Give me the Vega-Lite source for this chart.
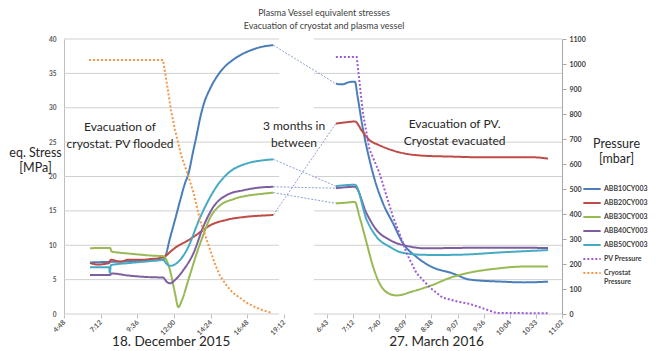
{
  "$schema": "https://vega.github.io/schema/vega-lite/v6.json",
  "width": 498,
  "height": 275,
  "autosize": {"type": "none"},
  "padding": {"left": 64, "top": 39, "right": 94, "bottom": 37},
  "background": "white",
  "config": {
    "view": {"stroke": null},
    "font": "Lato",
    "axis": {"labelFont": "Lato", "titleFont": "Lato"},
    "legend": {"labelFont": "Lato"}
  },
  "title": {
    "text": ["Plasma Vessel equivalent stresses", "Evacuation of cryostat and plasma vessel"],
    "fontSize": 9, "fontWeight": "normal", "color": "#404040", "lineHeight": 13,
    "offset": 4, "anchor": "middle", "dx": 11, "font": "Lato"
  },
  "datasets": {
    "grid": [
      {"v": 0, "t": "2015-12-18T04:48Z", "t2": "2015-12-18T18:53Z"},
      {"v": 5, "t": "2015-12-18T04:48Z", "t2": "2015-12-18T18:53Z"},
      {"v": 10, "t": "2015-12-18T04:48Z", "t2": "2015-12-18T18:53Z"},
      {"v": 15, "t": "2015-12-18T04:48Z", "t2": "2015-12-18T18:53Z"},
      {"v": 20, "t": "2015-12-18T04:48Z", "t2": "2015-12-18T18:53Z"},
      {"v": 25, "t": "2015-12-18T04:48Z", "t2": "2015-12-18T18:53Z"},
      {"v": 30, "t": "2015-12-18T04:48Z", "t2": "2015-12-18T18:53Z"},
      {"v": 35, "t": "2015-12-18T04:48Z", "t2": "2015-12-18T18:53Z"},
      {"v": 40, "t": "2015-12-18T04:48Z", "t2": "2015-12-18T18:53Z"},
      {"v": 0, "t": "2016-03-27T06:28:54Z", "t2": "2016-03-27T11:02:24Z"},
      {"v": 5, "t": "2016-03-27T06:28:54Z", "t2": "2016-03-27T11:02:24Z"},
      {"v": 10, "t": "2016-03-27T06:28:54Z", "t2": "2016-03-27T11:02:24Z"},
      {"v": 15, "t": "2016-03-27T06:28:54Z", "t2": "2016-03-27T11:02:24Z"},
      {"v": 20, "t": "2016-03-27T06:28:54Z", "t2": "2016-03-27T11:02:24Z"},
      {"v": 25, "t": "2016-03-27T06:28:54Z", "t2": "2016-03-27T11:02:24Z"},
      {"v": 30, "t": "2016-03-27T06:28:54Z", "t2": "2016-03-27T11:02:24Z"},
      {"v": 35, "t": "2016-03-27T06:28:54Z", "t2": "2016-03-27T11:02:24Z"},
      {"v": 40, "t": "2016-03-27T06:28:54Z", "t2": "2016-03-27T11:02:24Z"}
    ],
    "notes": [
      {"label": "Evacuation of\ncryostat. PV flooded", "t": "2015-12-18T08:28Z", "v": 27.2},
      {"label": "3 months in\nbetween", "t": "2016-01-20T23:00Z", "v": 27.4},
      {"label": "Evacuation of PV.\nCryostat evacuated", "t": "2016-03-27T09:04Z", "v": 27.6}
    ],
    "dates": [
      {"label": "18. December 2015", "t": "2015-12-18T11:49Z", "v": -4.6},
      {"label": "27. March 2016", "t": "2016-03-27T08:44Z", "v": -4.6}
    ],
    "stress": [
      {"s": "ABB10CY003", "p": "L", "t": "2015-12-18T06:30Z", "v": 7.5},
      {"s": "ABB10CY003", "p": "L", "t": "2015-12-18T08:00Z", "v": 7.6},
      {"s": "ABB10CY003", "p": "L", "t": "2015-12-18T09:30Z", "v": 7.7},
      {"s": "ABB10CY003", "p": "L", "t": "2015-12-18T10:30Z", "v": 7.8},
      {"s": "ABB10CY003", "p": "L", "t": "2015-12-18T11:17Z", "v": 7.9},
      {"s": "ABB10CY003", "p": "L", "t": "2015-12-18T11:25Z", "v": 8.3},
      {"s": "ABB10CY003", "p": "L", "t": "2015-12-18T11:44Z", "v": 11.0},
      {"s": "ABB10CY003", "p": "L", "t": "2015-12-18T12:04Z", "v": 13.7},
      {"s": "ABB10CY003", "p": "L", "t": "2015-12-18T12:24Z", "v": 16.5},
      {"s": "ABB10CY003", "p": "L", "t": "2015-12-18T12:43Z", "v": 19.0},
      {"s": "ABB10CY003", "p": "L", "t": "2015-12-18T12:56Z", "v": 20.3},
      {"s": "ABB10CY003", "p": "L", "t": "2015-12-18T13:16Z", "v": 23.8},
      {"s": "ABB10CY003", "p": "L", "t": "2015-12-18T13:29Z", "v": 26.0},
      {"s": "ABB10CY003", "p": "L", "t": "2015-12-18T13:42Z", "v": 28.4},
      {"s": "ABB10CY003", "p": "L", "t": "2015-12-18T13:55Z", "v": 30.3},
      {"s": "ABB10CY003", "p": "L", "t": "2015-12-18T14:22Z", "v": 32.8},
      {"s": "ABB10CY003", "p": "L", "t": "2015-12-18T14:48Z", "v": 34.5},
      {"s": "ABB10CY003", "p": "L", "t": "2015-12-18T15:15Z", "v": 35.8},
      {"s": "ABB10CY003", "p": "L", "t": "2015-12-18T15:53Z", "v": 37.0},
      {"s": "ABB10CY003", "p": "L", "t": "2015-12-18T16:33Z", "v": 37.9},
      {"s": "ABB10CY003", "p": "L", "t": "2015-12-18T17:12Z", "v": 38.5},
      {"s": "ABB10CY003", "p": "L", "t": "2015-12-18T17:38Z", "v": 38.8},
      {"s": "ABB10CY003", "p": "L", "t": "2015-12-18T18:05Z", "v": 39.0},
      {"s": "ABB10CY003", "p": "L", "t": "2015-12-18T18:30Z", "v": 39.1},
      {"s": "ABB10CY003", "p": "R", "t": "2016-03-27T06:53Z", "v": 33.5},
      {"s": "ABB10CY003", "p": "R", "t": "2016-03-27T07:00Z", "v": 33.4},
      {"s": "ABB10CY003", "p": "R", "t": "2016-03-27T07:07Z", "v": 33.7},
      {"s": "ABB10CY003", "p": "R", "t": "2016-03-27T07:14Z", "v": 33.8},
      {"s": "ABB10CY003", "p": "R", "t": "2016-03-27T07:17Z", "v": 31.6},
      {"s": "ABB10CY003", "p": "R", "t": "2016-03-27T07:23Z", "v": 26.8},
      {"s": "ABB10CY003", "p": "R", "t": "2016-03-27T07:30Z", "v": 22.5},
      {"s": "ABB10CY003", "p": "R", "t": "2016-03-27T07:34Z", "v": 20.4},
      {"s": "ABB10CY003", "p": "R", "t": "2016-03-27T07:45Z", "v": 16.1},
      {"s": "ABB10CY003", "p": "R", "t": "2016-03-27T07:56Z", "v": 13.2},
      {"s": "ABB10CY003", "p": "R", "t": "2016-03-27T08:07Z", "v": 10.3},
      {"s": "ABB10CY003", "p": "R", "t": "2016-03-27T08:22Z", "v": 8.3},
      {"s": "ABB10CY003", "p": "R", "t": "2016-03-27T08:38Z", "v": 6.9},
      {"s": "ABB10CY003", "p": "R", "t": "2016-03-27T09:02Z", "v": 5.9},
      {"s": "ABB10CY003", "p": "R", "t": "2016-03-27T09:21Z", "v": 5.0},
      {"s": "ABB10CY003", "p": "R", "t": "2016-03-27T09:57Z", "v": 4.7},
      {"s": "ABB10CY003", "p": "R", "t": "2016-03-27T10:20Z", "v": 4.6},
      {"s": "ABB10CY003", "p": "R", "t": "2016-03-27T10:47Z", "v": 4.7},

      {"s": "ABB20CY003", "p": "L", "t": "2015-12-18T06:30Z", "v": 7.4},
      {"s": "ABB20CY003", "p": "L", "t": "2015-12-18T07:00Z", "v": 7.2},
      {"s": "ABB20CY003", "p": "L", "t": "2015-12-18T07:45Z", "v": 7.4},
      {"s": "ABB20CY003", "p": "L", "t": "2015-12-18T07:52Z", "v": 7.9},
      {"s": "ABB20CY003", "p": "L", "t": "2015-12-18T08:30Z", "v": 7.6},
      {"s": "ABB20CY003", "p": "L", "t": "2015-12-18T09:00Z", "v": 7.9},
      {"s": "ABB20CY003", "p": "L", "t": "2015-12-18T10:00Z", "v": 7.9},
      {"s": "ABB20CY003", "p": "L", "t": "2015-12-18T10:30Z", "v": 8.0},
      {"s": "ABB20CY003", "p": "L", "t": "2015-12-18T11:00Z", "v": 8.1},
      {"s": "ABB20CY003", "p": "L", "t": "2015-12-18T11:25Z", "v": 8.4},
      {"s": "ABB20CY003", "p": "L", "t": "2015-12-18T11:50Z", "v": 9.2},
      {"s": "ABB20CY003", "p": "L", "t": "2015-12-18T12:11Z", "v": 9.8},
      {"s": "ABB20CY003", "p": "L", "t": "2015-12-18T12:45Z", "v": 10.5},
      {"s": "ABB20CY003", "p": "L", "t": "2015-12-18T13:16Z", "v": 11.2},
      {"s": "ABB20CY003", "p": "L", "t": "2015-12-18T13:50Z", "v": 12.1},
      {"s": "ABB20CY003", "p": "L", "t": "2015-12-18T14:22Z", "v": 12.9},
      {"s": "ABB20CY003", "p": "L", "t": "2015-12-18T15:27Z", "v": 13.7},
      {"s": "ABB20CY003", "p": "L", "t": "2015-12-18T16:46Z", "v": 14.15},
      {"s": "ABB20CY003", "p": "L", "t": "2015-12-18T17:40Z", "v": 14.3},
      {"s": "ABB20CY003", "p": "L", "t": "2015-12-18T18:30Z", "v": 14.4},
      {"s": "ABB20CY003", "p": "R", "t": "2016-03-27T06:53Z", "v": 27.7},
      {"s": "ABB20CY003", "p": "R", "t": "2016-03-27T07:05Z", "v": 27.9},
      {"s": "ABB20CY003", "p": "R", "t": "2016-03-27T07:14Z", "v": 28.0},
      {"s": "ABB20CY003", "p": "R", "t": "2016-03-27T07:22Z", "v": 26.6},
      {"s": "ABB20CY003", "p": "R", "t": "2016-03-27T07:30Z", "v": 25.3},
      {"s": "ABB20CY003", "p": "R", "t": "2016-03-27T07:40Z", "v": 24.6},
      {"s": "ABB20CY003", "p": "R", "t": "2016-03-27T07:49Z", "v": 24.1},
      {"s": "ABB20CY003", "p": "R", "t": "2016-03-27T08:07Z", "v": 23.4},
      {"s": "ABB20CY003", "p": "R", "t": "2016-03-27T08:33Z", "v": 23.0},
      {"s": "ABB20CY003", "p": "R", "t": "2016-03-27T09:00Z", "v": 22.9},
      {"s": "ABB20CY003", "p": "R", "t": "2016-03-27T09:30Z", "v": 22.8},
      {"s": "ABB20CY003", "p": "R", "t": "2016-03-27T10:00Z", "v": 22.8},
      {"s": "ABB20CY003", "p": "R", "t": "2016-03-27T10:30Z", "v": 22.8},
      {"s": "ABB20CY003", "p": "R", "t": "2016-03-27T10:47Z", "v": 22.6},

      {"s": "ABB30CY003", "p": "L", "t": "2015-12-18T06:30Z", "v": 9.55},
      {"s": "ABB30CY003", "p": "L", "t": "2015-12-18T07:00Z", "v": 9.6},
      {"s": "ABB30CY003", "p": "L", "t": "2015-12-18T07:49Z", "v": 9.6},
      {"s": "ABB30CY003", "p": "L", "t": "2015-12-18T07:55Z", "v": 9.1},
      {"s": "ABB30CY003", "p": "L", "t": "2015-12-18T08:30Z", "v": 8.9},
      {"s": "ABB30CY003", "p": "L", "t": "2015-12-18T09:00Z", "v": 8.8},
      {"s": "ABB30CY003", "p": "L", "t": "2015-12-18T10:30Z", "v": 8.5},
      {"s": "ABB30CY003", "p": "L", "t": "2015-12-18T11:20Z", "v": 8.4},
      {"s": "ABB30CY003", "p": "L", "t": "2015-12-18T11:25Z", "v": 8.2},
      {"s": "ABB30CY003", "p": "L", "t": "2015-12-18T11:44Z", "v": 6.4},
      {"s": "ABB30CY003", "p": "L", "t": "2015-12-18T12:04Z", "v": 3.0},
      {"s": "ABB30CY003", "p": "L", "t": "2015-12-18T12:17Z", "v": 1.0},
      {"s": "ABB30CY003", "p": "L", "t": "2015-12-18T12:30Z", "v": 1.9},
      {"s": "ABB30CY003", "p": "L", "t": "2015-12-18T12:56Z", "v": 4.9},
      {"s": "ABB30CY003", "p": "L", "t": "2015-12-18T13:29Z", "v": 8.8},
      {"s": "ABB30CY003", "p": "L", "t": "2015-12-18T13:55Z", "v": 11.5},
      {"s": "ABB30CY003", "p": "L", "t": "2015-12-18T14:22Z", "v": 14.0},
      {"s": "ABB30CY003", "p": "L", "t": "2015-12-18T15:01Z", "v": 15.8},
      {"s": "ABB30CY003", "p": "L", "t": "2015-12-18T15:53Z", "v": 16.7},
      {"s": "ABB30CY003", "p": "L", "t": "2015-12-18T16:46Z", "v": 17.2},
      {"s": "ABB30CY003", "p": "L", "t": "2015-12-18T17:38Z", "v": 17.45},
      {"s": "ABB30CY003", "p": "L", "t": "2015-12-18T18:30Z", "v": 17.65},
      {"s": "ABB30CY003", "p": "R", "t": "2016-03-27T06:53Z", "v": 16.1},
      {"s": "ABB30CY003", "p": "R", "t": "2016-03-27T07:05Z", "v": 16.2},
      {"s": "ABB30CY003", "p": "R", "t": "2016-03-27T07:14Z", "v": 16.3},
      {"s": "ABB30CY003", "p": "R", "t": "2016-03-27T07:19Z", "v": 14.2},
      {"s": "ABB30CY003", "p": "R", "t": "2016-03-27T07:27Z", "v": 10.3},
      {"s": "ABB30CY003", "p": "R", "t": "2016-03-27T07:34Z", "v": 6.9},
      {"s": "ABB30CY003", "p": "R", "t": "2016-03-27T07:41Z", "v": 4.5},
      {"s": "ABB30CY003", "p": "R", "t": "2016-03-27T07:51Z", "v": 3.0},
      {"s": "ABB30CY003", "p": "R", "t": "2016-03-27T08:00Z", "v": 2.7},
      {"s": "ABB30CY003", "p": "R", "t": "2016-03-27T08:18Z", "v": 3.3},
      {"s": "ABB30CY003", "p": "R", "t": "2016-03-27T08:37Z", "v": 4.1},
      {"s": "ABB30CY003", "p": "R", "t": "2016-03-27T09:02Z", "v": 5.4},
      {"s": "ABB30CY003", "p": "R", "t": "2016-03-27T09:13Z", "v": 5.8},
      {"s": "ABB30CY003", "p": "R", "t": "2016-03-27T09:50Z", "v": 6.6},
      {"s": "ABB30CY003", "p": "R", "t": "2016-03-27T10:20Z", "v": 6.9},
      {"s": "ABB30CY003", "p": "R", "t": "2016-03-27T10:47Z", "v": 6.9},

      {"s": "ABB40CY003", "p": "L", "t": "2015-12-18T06:30Z", "v": 5.67},
      {"s": "ABB40CY003", "p": "L", "t": "2015-12-18T07:49Z", "v": 5.67},
      {"s": "ABB40CY003", "p": "L", "t": "2015-12-18T07:55Z", "v": 5.9},
      {"s": "ABB40CY003", "p": "L", "t": "2015-12-18T09:00Z", "v": 5.6},
      {"s": "ABB40CY003", "p": "L", "t": "2015-12-18T10:30Z", "v": 5.35},
      {"s": "ABB40CY003", "p": "L", "t": "2015-12-18T11:17Z", "v": 5.3},
      {"s": "ABB40CY003", "p": "L", "t": "2015-12-18T11:31Z", "v": 4.7},
      {"s": "ABB40CY003", "p": "L", "t": "2015-12-18T11:44Z", "v": 4.46},
      {"s": "ABB40CY003", "p": "L", "t": "2015-12-18T12:04Z", "v": 4.95},
      {"s": "ABB40CY003", "p": "L", "t": "2015-12-18T12:37Z", "v": 6.4},
      {"s": "ABB40CY003", "p": "L", "t": "2015-12-18T13:16Z", "v": 8.8},
      {"s": "ABB40CY003", "p": "L", "t": "2015-12-18T13:55Z", "v": 12.7},
      {"s": "ABB40CY003", "p": "L", "t": "2015-12-18T14:35Z", "v": 15.6},
      {"s": "ABB40CY003", "p": "L", "t": "2015-12-18T15:27Z", "v": 17.3},
      {"s": "ABB40CY003", "p": "L", "t": "2015-12-18T16:33Z", "v": 18.0},
      {"s": "ABB40CY003", "p": "L", "t": "2015-12-18T17:38Z", "v": 18.4},
      {"s": "ABB40CY003", "p": "L", "t": "2015-12-18T18:30Z", "v": 18.5},
      {"s": "ABB40CY003", "p": "R", "t": "2016-03-27T06:53Z", "v": 18.3},
      {"s": "ABB40CY003", "p": "R", "t": "2016-03-27T07:14Z", "v": 18.5},
      {"s": "ABB40CY003", "p": "R", "t": "2016-03-27T07:27Z", "v": 14.6},
      {"s": "ABB40CY003", "p": "R", "t": "2016-03-27T07:38Z", "v": 12.2},
      {"s": "ABB40CY003", "p": "R", "t": "2016-03-27T07:52Z", "v": 10.8},
      {"s": "ABB40CY003", "p": "R", "t": "2016-03-27T08:15Z", "v": 9.8},
      {"s": "ABB40CY003", "p": "R", "t": "2016-03-27T08:33Z", "v": 9.55},
      {"s": "ABB40CY003", "p": "R", "t": "2016-03-27T09:00Z", "v": 9.6},
      {"s": "ABB40CY003", "p": "R", "t": "2016-03-27T10:00Z", "v": 9.65},
      {"s": "ABB40CY003", "p": "R", "t": "2016-03-27T10:47Z", "v": 9.6},

      {"s": "ABB50CY003", "p": "L", "t": "2015-12-18T06:30Z", "v": 6.8},
      {"s": "ABB50CY003", "p": "L", "t": "2015-12-18T07:45Z", "v": 6.8},
      {"s": "ABB50CY003", "p": "L", "t": "2015-12-18T07:48Z", "v": 6.0},
      {"s": "ABB50CY003", "p": "L", "t": "2015-12-18T07:52Z", "v": 7.1},
      {"s": "ABB50CY003", "p": "L", "t": "2015-12-18T09:00Z", "v": 7.4},
      {"s": "ABB50CY003", "p": "L", "t": "2015-12-18T10:30Z", "v": 7.7},
      {"s": "ABB50CY003", "p": "L", "t": "2015-12-18T11:17Z", "v": 7.85},
      {"s": "ABB50CY003", "p": "L", "t": "2015-12-18T11:31Z", "v": 7.3},
      {"s": "ABB50CY003", "p": "L", "t": "2015-12-18T11:44Z", "v": 7.0},
      {"s": "ABB50CY003", "p": "L", "t": "2015-12-18T12:11Z", "v": 7.4},
      {"s": "ABB50CY003", "p": "L", "t": "2015-12-18T12:50Z", "v": 9.3},
      {"s": "ABB50CY003", "p": "L", "t": "2015-12-18T13:42Z", "v": 14.0},
      {"s": "ABB50CY003", "p": "L", "t": "2015-12-18T14:22Z", "v": 17.0},
      {"s": "ABB50CY003", "p": "L", "t": "2015-12-18T14:50Z", "v": 18.7},
      {"s": "ABB50CY003", "p": "L", "t": "2015-12-18T15:27Z", "v": 20.3},
      {"s": "ABB50CY003", "p": "L", "t": "2015-12-18T16:46Z", "v": 21.9},
      {"s": "ABB50CY003", "p": "L", "t": "2015-12-18T17:38Z", "v": 22.3},
      {"s": "ABB50CY003", "p": "L", "t": "2015-12-18T18:30Z", "v": 22.5},
      {"s": "ABB50CY003", "p": "R", "t": "2016-03-27T06:53Z", "v": 18.6},
      {"s": "ABB50CY003", "p": "R", "t": "2016-03-27T07:14Z", "v": 18.8},
      {"s": "ABB50CY003", "p": "R", "t": "2016-03-27T07:27Z", "v": 13.7},
      {"s": "ABB50CY003", "p": "R", "t": "2016-03-27T07:38Z", "v": 11.2},
      {"s": "ABB50CY003", "p": "R", "t": "2016-03-27T07:52Z", "v": 9.8},
      {"s": "ABB50CY003", "p": "R", "t": "2016-03-27T08:07Z", "v": 8.9},
      {"s": "ABB50CY003", "p": "R", "t": "2016-03-27T08:33Z", "v": 8.6},
      {"s": "ABB50CY003", "p": "R", "t": "2016-03-27T09:00Z", "v": 8.6},
      {"s": "ABB50CY003", "p": "R", "t": "2016-03-27T10:00Z", "v": 9.0},
      {"s": "ABB50CY003", "p": "R", "t": "2016-03-27T10:47Z", "v": 9.3}
    ],
    "press": [
      {"s": "Cryostat Pressure", "t": "2015-12-18T06:26Z", "v": 1016},
      {"s": "Cryostat Pressure", "t": "2015-12-18T11:17Z", "v": 1016},
      {"s": "Cryostat Pressure", "t": "2015-12-18T11:33Z", "v": 916},
      {"s": "Cryostat Pressure", "t": "2015-12-18T11:48Z", "v": 816},
      {"s": "Cryostat Pressure", "t": "2015-12-18T12:04Z", "v": 736},
      {"s": "Cryostat Pressure", "t": "2015-12-18T12:28Z", "v": 636},
      {"s": "Cryostat Pressure", "t": "2015-12-18T12:55Z", "v": 556},
      {"s": "Cryostat Pressure", "t": "2015-12-18T13:19Z", "v": 476},
      {"s": "Cryostat Pressure", "t": "2015-12-18T13:42Z", "v": 376},
      {"s": "Cryostat Pressure", "t": "2015-12-18T14:02Z", "v": 316},
      {"s": "Cryostat Pressure", "t": "2015-12-18T14:22Z", "v": 256},
      {"s": "Cryostat Pressure", "t": "2015-12-18T14:41Z", "v": 200},
      {"s": "Cryostat Pressure", "t": "2015-12-18T15:01Z", "v": 152},
      {"s": "Cryostat Pressure", "t": "2015-12-18T15:28Z", "v": 112},
      {"s": "Cryostat Pressure", "t": "2015-12-18T15:52Z", "v": 84},
      {"s": "Cryostat Pressure", "t": "2015-12-18T16:20Z", "v": 64},
      {"s": "Cryostat Pressure", "t": "2015-12-18T16:47Z", "v": 44},
      {"s": "Cryostat Pressure", "t": "2015-12-18T17:18Z", "v": 28},
      {"s": "Cryostat Pressure", "t": "2015-12-18T17:46Z", "v": 16},
      {"s": "Cryostat Pressure", "t": "2015-12-18T18:25Z", "v": 4},
      {"s": "PV Pressure", "t": "2016-03-27T06:53Z", "v": 1028},
      {"s": "PV Pressure", "t": "2016-03-27T07:16Z", "v": 1028},
      {"s": "PV Pressure", "t": "2016-03-27T07:23Z", "v": 800},
      {"s": "PV Pressure", "t": "2016-03-27T07:30Z", "v": 660},
      {"s": "PV Pressure", "t": "2016-03-27T07:41Z", "v": 565},
      {"s": "PV Pressure", "t": "2016-03-27T07:56Z", "v": 389},
      {"s": "PV Pressure", "t": "2016-03-27T08:03Z", "v": 323},
      {"s": "PV Pressure", "t": "2016-03-27T08:11Z", "v": 243},
      {"s": "PV Pressure", "t": "2016-03-27T08:22Z", "v": 163},
      {"s": "PV Pressure", "t": "2016-03-27T08:37Z", "v": 105},
      {"s": "PV Pressure", "t": "2016-03-27T08:51Z", "v": 65},
      {"s": "PV Pressure", "t": "2016-03-27T09:07Z", "v": 50},
      {"s": "PV Pressure", "t": "2016-03-27T09:21Z", "v": 40},
      {"s": "PV Pressure", "t": "2016-03-27T09:39Z", "v": 18},
      {"s": "PV Pressure", "t": "2016-03-27T09:50Z", "v": 4},
      {"s": "PV Pressure", "t": "2016-03-27T10:47Z", "v": 3}
    ],
    "conn": [
      {"s": "ABB10CY003", "t": "2015-12-18T18:30Z", "v": 39.1},
      {"s": "ABB10CY003", "t": "2016-03-27T06:53Z", "v": 33.5},
      {"s": "ABB20CY003", "t": "2015-12-18T18:30Z", "v": 14.4},
      {"s": "ABB20CY003", "t": "2016-03-27T06:53Z", "v": 27.7},
      {"s": "ABB30CY003", "t": "2015-12-18T18:30Z", "v": 17.65},
      {"s": "ABB30CY003", "t": "2016-03-27T06:53Z", "v": 16.1},
      {"s": "ABB40CY003", "t": "2015-12-18T18:30Z", "v": 18.5},
      {"s": "ABB40CY003", "t": "2016-03-27T06:53Z", "v": 18.3},
      {"s": "ABB50CY003", "t": "2015-12-18T18:30Z", "v": 22.5},
      {"s": "ABB50CY003", "t": "2016-03-27T06:53Z", "v": 18.6}
    ]
  },
  "encoding": {
    "x": {
      "field": "t", "type": "temporal",
      "scale": {
        "type": "utc", "nice": false,
        "domain": {"expr": "[1450414080000, 1450465920000, 1459060134000, 1459076544000]"},
        "range": [0, 220, 250, 498]
      },
      "axis": {
        "values": [1450414080000, 1450422720000, 1450431360000, 1450440000000, 1450448640000, 1450457280000, 1450465920000,
                   1459060992000, 1459062720000, 1459064448000, 1459066176000, 1459067904000, 1459069632000, 1459071360000, 1459073088000, 1459074816000, 1459076544000],
        "format": "%-H:%M",
        "labelAngle": -45, "labelAlign": "right", "labelBaseline": "middle",
        "labelFontSize": 7, "labelColor": "#595959", "labelFontWeight": "bold",
        "tickColor": "#bfbfbf", "tickSize": 4, "domain": false, "grid": false, "title": null,
        "labelPadding": 3, "labelOverlap": false, "labelBound": false, "labelFlush": false
      }
    }
  },
  "layer": [
    {
      "encoding": {
        "y": {
          "field": "v", "type": "quantitative",
          "scale": {"domain": [0, 40], "nice": false},
          "axis": {
            "values": [0, 5, 10, 15, 20, 25, 30, 35, 40],
            "labelFontSize": 6.5, "labelColor": "#595959", "labelFontWeight": "bold",
            "ticks": false, "domain": true, "domainColor": "#bfbfbf", "labelPadding": 8, "grid": false,
            "title": ["eq. Stress", "[MPa]"], "titleAngle": 0, "titleX": -29, "titleY": 117,
            "titleFontSize": 12.5, "titleFontWeight": "normal", "titleColor": "#262626",
            "titleAlign": "center", "titleBaseline": "alphabetic", "titleLineHeight": 15
          }
        }
      },
      "layer": [
        {
          "data": {"name": "grid"},
          "mark": {"type": "rule", "color": "#d0d0d0", "strokeWidth": 1},
          "encoding": {"x2": {"field": "t2"}}
        },
        {
          "data": {"name": "conn"},
          "mark": {"type": "line", "color": "#6f88c4", "strokeWidth": 0.8, "strokeDash": [2, 1.5]},
          "encoding": {"detail": {"field": "s"}}
        },
        {
          "data": {"name": "stress"},
          "mark": {"type": "line", "strokeWidth": 2, "interpolate": "monotone"},
          "encoding": {
            "detail": {"field": "p"},
            "color": {
              "field": "s", "type": "nominal",
              "scale": {
                "domain": ["ABB10CY003", "ABB20CY003", "ABB30CY003", "ABB40CY003", "ABB50CY003", "PV Pressure", "Cryostat Pressure"],
                "range": ["#4a7ebb", "#be4b48", "#98b954", "#7d5fa0", "#46aac5", "#9b5cd6", "#f79646"]
              },
              "legend": {
                "orient": "none", "legendX": 518, "legendY": 140, "title": null,
                "symbolType": "stroke", "symbolSize": 300, "symbolStrokeWidth": 2,
                "labelFontSize": 7, "labelFontWeight": "bold", "labelColor": "#404040", "labelOffset": 2,
                "rowPadding": 0,
                "labelExpr": "datum.label == 'Cryostat Pressure' ? ['Cryostat', 'Pressure'] : datum.label"
              }
            },
            "strokeDash": {
              "field": "s", "type": "nominal",
              "scale": {
                "domain": ["ABB10CY003", "ABB20CY003", "ABB30CY003", "ABB40CY003", "ABB50CY003", "PV Pressure", "Cryostat Pressure"],
                "range": [[1, 0], [1, 0], [1, 0], [1, 0], [1, 0], [2, 2], [2, 2]]
              },
              "legend": {
                "orient": "none", "legendX": 518, "legendY": 140, "title": null,
                "symbolType": "stroke", "symbolSize": 300, "symbolStrokeWidth": 2,
                "labelFontSize": 7, "labelFontWeight": "bold", "labelColor": "#404040", "labelOffset": 2,
                "rowPadding": 0,
                "labelExpr": "datum.label == 'Cryostat Pressure' ? ['Cryostat', 'Pressure'] : datum.label"
              }
            }
          }
        },
        {
          "data": {"name": "notes"},
          "mark": {"type": "text", "fontSize": 12, "lineHeight": 17, "lineBreak": "\n", "align": "center", "baseline": "middle", "color": "#262626"},
          "encoding": {"text": {"field": "label"}}
        },
        {
          "data": {"name": "dates"},
          "mark": {"type": "text", "fontSize": 13.5, "align": "center", "baseline": "alphabetic", "color": "#262626"},
          "encoding": {"text": {"field": "label"}}
        }
      ]
    },
    {
      "data": {"name": "press"},
      "mark": {"type": "line", "strokeWidth": 2},
      "encoding": {
        "y": {
          "field": "v", "type": "quantitative",
          "scale": {"domain": [0, 1100], "nice": false},
          "axis": {
            "orient": "right",
            "values": [0, 100, 200, 300, 400, 500, 600, 700, 800, 900, 1000, 1100],
            "format": "d",
            "labelFontSize": 7, "labelColor": "#404040", "labelFontWeight": "bold",
            "ticks": true, "tickSize": 4, "tickColor": "#a6a6a6", "domain": true, "domainColor": "#a6a6a6",
            "labelPadding": 3, "grid": false,
            "title": ["Pressure", "[mbar]"], "titleAngle": 0, "titleX": 54, "titleY": 108,
            "titleFontSize": 12.5, "titleFontWeight": "normal", "titleColor": "#262626",
            "titleAlign": "center", "titleBaseline": "alphabetic", "titleLineHeight": 15
          }
        },
        "color": {
          "field": "s", "type": "nominal",
          "scale": {
            "domain": ["ABB10CY003", "ABB20CY003", "ABB30CY003", "ABB40CY003", "ABB50CY003", "PV Pressure", "Cryostat Pressure"],
            "range": ["#4a7ebb", "#be4b48", "#98b954", "#7d5fa0", "#46aac5", "#9b5cd6", "#f79646"]
          }
        },
        "strokeDash": {
          "field": "s", "type": "nominal",
          "scale": {
            "domain": ["ABB10CY003", "ABB20CY003", "ABB30CY003", "ABB40CY003", "ABB50CY003", "PV Pressure", "Cryostat Pressure"],
            "range": [[1, 0], [1, 0], [1, 0], [1, 0], [1, 0], [2, 2], [2, 2]]
          }
        }
      }
    }
  ],
  "resolve": {"scale": {"y": "independent"}}
}
